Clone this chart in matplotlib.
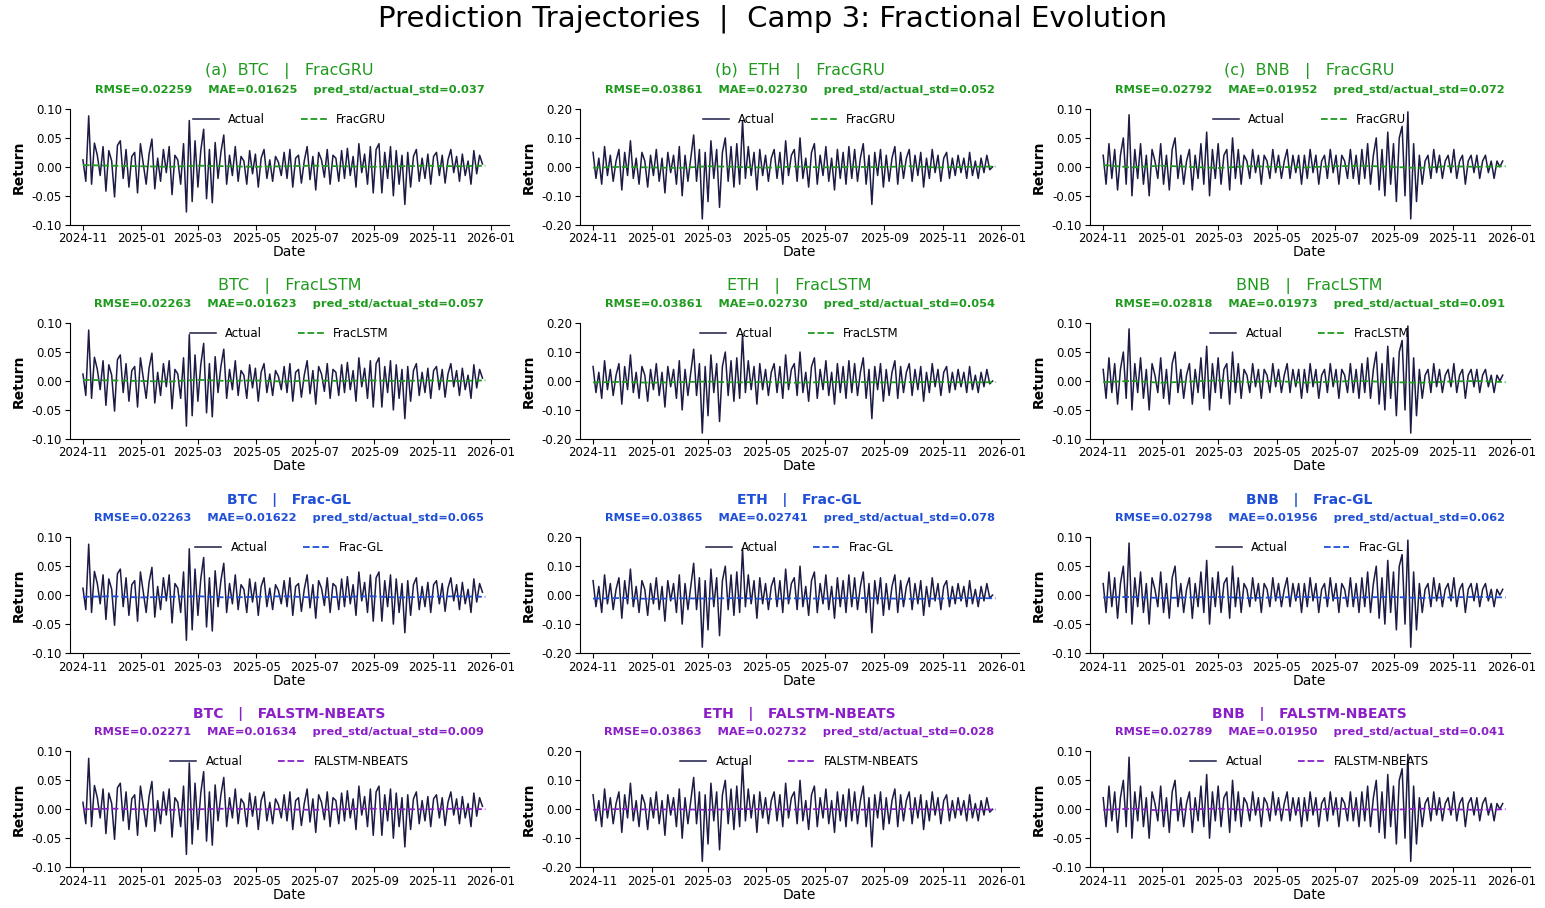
import numpy as np
import matplotlib.pyplot as plt
import matplotlib.dates as mdates
from matplotlib.ticker import FormatStrFormatter

assets = ["BTC", "ETH", "BNB"]
models = ["FracGRU", "FracLSTM", "Frac-GL", "FALSTM-NBEATS"]
model_colors = ["#1f9a1f", "#1f9a1f", "#1f4fd6", "#8a1fc8"]

btc_actual = [0.012,-0.025,0.088,-0.030,0.041,0.020,-0.015,0.035,-0.042,0.028,0.010,-0.052,0.037,0.045,-0.020,0.030,-0.035,0.018,0.025,-0.045,0.040,0.005,-0.030,0.022,0.048,-0.038,0.015,-0.025,0.030,-0.010,
              0.035,-0.048,0.020,0.012,-0.030,0.040,-0.078,0.080,-0.060,0.045,-0.035,0.028,0.065,-0.055,0.030,-0.062,0.042,-0.020,0.025,0.055,
              -0.030,0.020,-0.015,0.035,-0.025,0.018,0.010,-0.030,0.028,-0.012,0.022,-0.035,0.015,0.030,-0.020,0.012,-0.025,0.018,0.008,-0.015,
              0.025,-0.020,0.030,-0.035,0.015,0.020,-0.028,0.010,0.035,-0.022,0.018,-0.040,0.025,0.012,-0.018,0.030,-0.030,0.020,0.015,-0.025,
              0.028,-0.020,0.032,-0.015,0.018,-0.035,0.040,-0.010,0.022,-0.030,0.035,-0.045,0.030,0.040,-0.045,0.025,-0.020,0.035,-0.050,0.028,
              -0.030,0.020,-0.065,0.025,-0.035,0.018,0.030,-0.025,0.015,-0.020,0.022,-0.030,0.018,0.025,-0.015,0.020,-0.028,0.012,0.030,-0.010,
              0.018,-0.025,0.022,-0.015,0.010,-0.030,0.028,-0.012,0.020,0.005]
eth_actual = [0.05,-0.04,0.03,-0.06,0.07,-0.03,0.04,-0.05,0.02,0.06,-0.08,0.05,-0.03,0.09,-0.04,0.03,-0.06,0.05,0.02,-0.07,0.04,-0.03,0.06,-0.05,0.03,-0.09,0.05,-0.02,0.04,-0.06,
              0.07,-0.10,0.04,-0.05,0.03,0.11,-0.05,0.06,-0.18,0.05,-0.12,0.09,-0.04,0.06,-0.14,0.05,0.10,-0.05,0.07,-0.07,
              0.08,-0.06,0.16,-0.04,0.07,-0.03,0.05,-0.08,0.06,-0.03,0.04,-0.05,0.03,0.06,-0.04,0.05,-0.06,0.09,-0.03,0.04,
              0.06,-0.05,0.10,-0.04,0.03,-0.07,0.05,0.08,-0.06,0.04,-0.03,0.07,-0.05,0.03,-0.08,0.06,-0.04,0.05,-0.06,0.07,
              -0.04,0.06,-0.05,0.03,0.08,-0.06,0.04,-0.13,0.05,-0.03,0.06,-0.07,0.04,-0.05,0.03,0.07,-0.06,0.05,-0.04,0.03,
              0.06,-0.05,0.04,-0.03,0.05,-0.07,0.03,-0.04,0.06,-0.02,0.04,-0.05,0.03,0.05,-0.04,0.03,-0.03,0.04,-0.02,0.03,
              -0.04,0.05,-0.03,0.02,-0.04,0.03,-0.02,0.04,-0.01,0.00]
bnb_actual = [0.02,-0.03,0.04,-0.02,0.03,-0.04,0.02,0.05,-0.03,0.09,-0.05,0.03,-0.02,0.04,-0.03,0.02,-0.05,0.03,0.01,-0.02,0.04,-0.03,0.02,-0.04,0.03,0.05,-0.02,0.02,-0.03,0.01,
              0.03,-0.04,0.02,-0.02,0.04,-0.03,0.06,-0.05,0.03,-0.02,0.04,-0.03,0.02,0.03,-0.04,0.05,-0.02,0.03,-0.03,0.02,
              0.01,-0.02,0.03,-0.01,0.02,-0.03,0.02,0.01,-0.02,0.03,-0.01,0.02,-0.02,0.01,0.03,-0.02,0.02,-0.01,0.02,-0.03,
              0.02,-0.02,0.03,-0.01,0.02,-0.03,0.01,0.02,-0.02,0.03,-0.01,0.02,-0.03,0.02,0.01,-0.02,0.03,-0.02,0.02,-0.03,
              0.03,-0.02,0.04,-0.03,0.02,0.05,-0.04,0.03,-0.05,0.06,-0.03,0.04,-0.06,0.05,0.07,-0.05,0.095,-0.09,0.04,-0.06,
              0.02,-0.03,0.01,0.02,-0.02,0.03,-0.01,0.02,-0.02,0.01,0.02,-0.01,0.03,-0.02,0.01,0.02,-0.03,0.01,0.02,-0.01,
              0.02,-0.02,0.01,0.02,-0.01,0.01,-0.02,0.01,0.00,0.01]
actuals = {"BTC": btc_actual, "ETH": eth_actual, "BNB": bnb_actual}

# predictions, sampled monthly
preds = {
    ("BTC", "FracGRU"): [0.003,0.002,0.001,0.000,0.002,0.001,0.000,0.001,0.002,0.001,0.000,0.001,0.002,0.001,0.002],
    ("ETH", "FracGRU"): [-0.003,0.000,-0.002,-0.004,0.002,0.000,-0.003,0.001,-0.002,0.000,-0.001,0.002,-0.002,0.000,0.001],
    ("BNB", "FracGRU"): [0.003,-0.001,0.002,0.000,-0.002,0.001,0.000,-0.001,0.001,0.002,0.000,-0.002,0.001,0.000,0.001],
    ("BTC", "FracLSTM"): [0.002,0.001,0.000,-0.001,0.002,0.000,0.001,-0.001,0.001,0.000,0.001,0.000,0.001,0.000,0.001],
    ("ETH", "FracLSTM"): [-0.005,-0.003,-0.006,-0.004,-0.002,-0.005,-0.003,-0.006,-0.004,-0.003,-0.005,-0.004,-0.003,-0.005,-0.004],
    ("BNB", "FracLSTM"): [-0.002,0.000,-0.003,-0.001,0.001,-0.002,0.000,-0.003,-0.001,0.000,-0.002,-0.003,-0.001,0.000,-0.002],
    ("BTC", "Frac-GL"): [-0.003,-0.002,-0.004,-0.003,-0.002,-0.004,-0.003,-0.002,-0.004,-0.003,-0.002,-0.004,-0.003,-0.002,-0.003],
    ("ETH", "Frac-GL"): [-0.012,-0.010,-0.013,-0.011,-0.012,-0.010,-0.013,-0.011,-0.012,-0.010,-0.011,-0.013,-0.012,-0.010,-0.011],
    ("BNB", "Frac-GL"): [-0.004,-0.003,-0.005,-0.004,-0.003,-0.005,-0.004,-0.003,-0.005,-0.004,-0.003,-0.005,-0.004,-0.003,-0.004],
    ("BTC", "FALSTM-NBEATS"): [0.000,0.001,0.000,-0.001,0.000,0.001,0.000,0.000,-0.001,0.000,0.001,0.000,0.000,0.001,0.000],
    ("ETH", "FALSTM-NBEATS"): [-0.002,0.001,-0.001,0.000,-0.002,0.001,0.000,-0.001,0.001,-0.002,0.000,0.001,-0.001,0.000,-0.001],
    ("BNB", "FALSTM-NBEATS"): [-0.001,0.001,-0.002,0.000,0.001,-0.001,0.000,-0.002,0.001,0.000,-0.001,0.001,0.000,-0.001,0.000],
}

metrics = {
    ("BTC", "FracGRU"): (0.02259, 0.01625, 0.037), ("ETH", "FracGRU"): (0.03861, 0.02730, 0.052), ("BNB", "FracGRU"): (0.02792, 0.01952, 0.072),
    ("BTC", "FracLSTM"): (0.02263, 0.01623, 0.057), ("ETH", "FracLSTM"): (0.03861, 0.02730, 0.054), ("BNB", "FracLSTM"): (0.02818, 0.01973, 0.091),
    ("BTC", "Frac-GL"): (0.02263, 0.01622, 0.065), ("ETH", "Frac-GL"): (0.03865, 0.02741, 0.078), ("BNB", "Frac-GL"): (0.02798, 0.01956, 0.062),
    ("BTC", "FALSTM-NBEATS"): (0.02271, 0.01634, 0.009), ("ETH", "FALSTM-NBEATS"): (0.03863, 0.02732, 0.028), ("BNB", "FALSTM-NBEATS"): (0.02789, 0.01950, 0.041),
}

dates = np.datetime64("2024-11-01") + np.arange(len(btc_actual)) * 3
pred_dates = np.datetime64("2024-11-01") + np.arange(15) * 30

fig, axes = plt.subplots(4, 3, figsize=(15.45, 9.08), dpi=100)
fig.subplots_adjust(left=0.045, right=0.99, top=0.88, bottom=0.045, hspace=0.85, wspace=0.16)
fig.suptitle("Prediction Trajectories  |  Camp 3: Fractional Evolution", fontsize=21, y=0.995)

letters = ["(a)", "(b)", "(c)"]
for r, model in enumerate(models):
    col = model_colors[r]
    for c, asset in enumerate(assets):
        ax = axes[r, c]
        ax.plot(dates, actuals[asset], color="#1b1b45", lw=1.1, label="Actual")
        ax.plot(pred_dates, preds[(asset, model)], color=col, lw=1.3, ls="--", label=model)
        if asset == "ETH":
            ax.set_ylim(-0.2, 0.2)
            ax.set_yticks([-0.2, -0.1, 0.0, 0.1, 0.2])
        else:
            ax.set_ylim(-0.1, 0.1)
            ax.set_yticks([-0.1, -0.05, 0.0, 0.05, 0.1])
        ax.yaxis.set_major_formatter(FormatStrFormatter("%.2f"))
        ax.set_xlim(np.datetime64("2024-10-18"), np.datetime64("2026-01-20"))
        ax.xaxis.set_major_locator(mdates.MonthLocator(bymonth=[1, 3, 5, 7, 9, 11]))
        ax.xaxis.set_major_formatter(mdates.DateFormatter("%Y-%m"))
        ax.tick_params(labelsize=8.5, pad=2)
        ax.set_ylabel("Return", fontsize=10, fontweight="bold")
        ax.set_xlabel("Date", fontsize=10, labelpad=0)
        for s in ["top", "right"]:
            ax.spines[s].set_visible(False)
        name = f"{letters[c]}  {asset}   |   {model}" if r == 0 else f"{asset}   |   {model}"
        if r >= 2:
            ax.text(0.5, 1.29, name, transform=ax.transAxes, ha="center", color=col, fontsize=10, fontweight="bold")
        else:
            ax.text(0.5, 1.29, name, transform=ax.transAxes, ha="center", color=col, fontsize=11.5)
        rm, ma, ratio = metrics[(asset, model)]
        ax.text(0.5, 1.14, f"RMSE={rm:.5f}    MAE={ma:.5f}    pred_std/actual_std={ratio:.3f}",
                transform=ax.transAxes, ha="center", color=col, fontsize=8.2, fontweight="bold")
        ax.legend(loc="upper center", bbox_to_anchor=(0.5, 1.06), ncol=2, frameon=False, fontsize=8.5,
                  handlelength=2.2, columnspacing=3)

fig.savefig("out.png")
